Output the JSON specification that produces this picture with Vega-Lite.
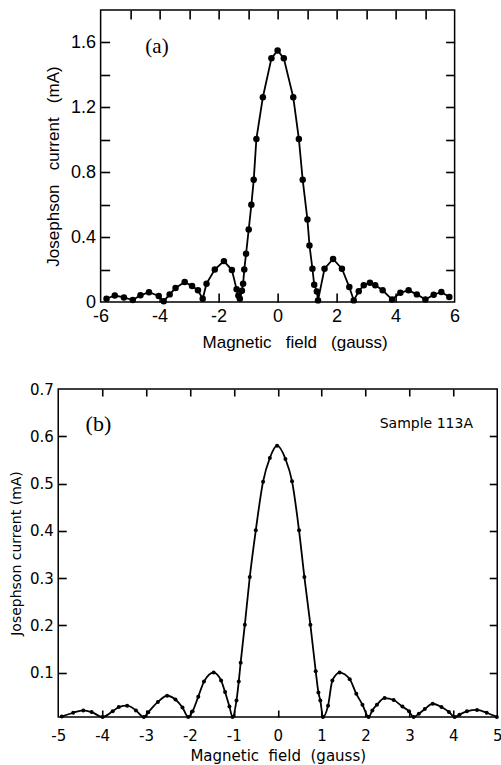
{
  "$schema": "https://vega.github.io/schema/vega-lite/v6.json",
  "background": "white",
  "padding": {"top": 8, "left": 8, "right": 0, "bottom": 0},
  "spacing": 30,
  "center": true,
  "config": {
    "view": {"stroke": "black", "strokeWidth": 1.5},
    "axis": {"grid": false, "domain": false, "ticks": true, "tickColor": "black", "tickOpacity": 1, "tickWidth": 1.6, "labelColor": "black", "titleColor": "black", "titleFontWeight": "normal", "labelFlush": false, "labelOverlap": false, "labelBound": false}
  },
  "datasets": {
    "a": [
      {"B": -5.80, "I": 0.02}, {"B": -5.52, "I": 0.04}, {"B": -5.21, "I": 0.028}, {"B": -4.91, "I": 0.012},
      {"B": -4.65, "I": 0.041}, {"B": -4.36, "I": 0.06}, {"B": -4.03, "I": 0.037}, {"B": -3.86, "I": 0.005},
      {"B": -3.66, "I": 0.047}, {"B": -3.46, "I": 0.086}, {"B": -3.15, "I": 0.123}, {"B": -2.90, "I": 0.098},
      {"B": -2.70, "I": 0.072}, {"B": -2.54, "I": 0.02}, {"B": -2.41, "I": 0.113}, {"B": -2.13, "I": 0.2},
      {"B": -1.82, "I": 0.252}, {"B": -1.55, "I": 0.197}, {"B": -1.39, "I": 0.078}, {"B": -1.33, "I": 0.04},
      {"B": -1.28, "I": 0.02}, {"B": -1.21, "I": 0.07}, {"B": -1.17, "I": 0.113}, {"B": -1.13, "I": 0.2},
      {"B": -1.07, "I": 0.297}, {"B": -0.98, "I": 0.447}, {"B": -0.89, "I": 0.599}, {"B": -0.81, "I": 0.753},
      {"B": -0.72, "I": 1.005}, {"B": -0.50, "I": 1.262}, {"B": -0.21, "I": 1.502}, {"B": 0.0, "I": 1.55},
      {"B": 0.21, "I": 1.502}, {"B": 0.53, "I": 1.262}, {"B": 0.72, "I": 1.005}, {"B": 0.85, "I": 0.753},
      {"B": 1.01, "I": 0.509}, {"B": 1.08, "I": 0.349}, {"B": 1.18, "I": 0.205}, {"B": 1.24, "I": 0.107},
      {"B": 1.33, "I": 0.065}, {"B": 1.37, "I": 0.01}, {"B": 1.59, "I": 0.205}, {"B": 1.88, "I": 0.265},
      {"B": 2.18, "I": 0.205}, {"B": 2.43, "I": 0.092}, {"B": 2.58, "I": 0.01}, {"B": 2.75, "I": 0.066},
      {"B": 2.92, "I": 0.103}, {"B": 3.13, "I": 0.119}, {"B": 3.31, "I": 0.103}, {"B": 3.56, "I": 0.072},
      {"B": 3.88, "I": 0.015}, {"B": 4.16, "I": 0.057}, {"B": 4.44, "I": 0.072}, {"B": 4.72, "I": 0.047},
      {"B": 5.01, "I": 0.015}, {"B": 5.29, "I": 0.045}, {"B": 5.55, "I": 0.062}, {"B": 5.82, "I": 0.031}
    ],
    "b": [
      {"B": -4.92, "I": 0.007}, {"B": -4.66, "I": 0.015}, {"B": -4.43, "I": 0.02}, {"B": -4.24, "I": 0.0165},
      {"B": -3.99, "I": 0.006}, {"B": -3.76, "I": 0.018}, {"B": -3.62, "I": 0.027}, {"B": -3.43, "I": 0.03},
      {"B": -3.23, "I": 0.02}, {"B": -3.05, "I": 0.006}, {"B": -2.95, "I": 0.016}, {"B": -2.73, "I": 0.038},
      {"B": -2.52, "I": 0.051}, {"B": -2.33, "I": 0.043}, {"B": -2.17, "I": 0.026}, {"B": -2.04, "I": 0.006},
      {"B": -1.94, "I": 0.018}, {"B": -1.81, "I": 0.049}, {"B": -1.68, "I": 0.081}, {"B": -1.46, "I": 0.1},
      {"B": -1.29, "I": 0.083}, {"B": -1.20, "I": 0.059}, {"B": -1.10, "I": 0.028}, {"B": -1.03, "I": 0.006},
      {"B": -0.94, "I": 0.041}, {"B": -0.888, "I": 0.081}, {"B": -0.845, "I": 0.121}, {"B": -0.75, "I": 0.201},
      {"B": -0.637, "I": 0.302}, {"B": -0.50, "I": 0.401}, {"B": -0.334, "I": 0.504}, {"B": -0.18, "I": 0.554},
      {"B": -0.016, "I": 0.58}, {"B": 0.175, "I": 0.552}, {"B": 0.325, "I": 0.505}, {"B": 0.485, "I": 0.401},
      {"B": 0.607, "I": 0.302}, {"B": 0.744, "I": 0.201}, {"B": 0.865, "I": 0.103}, {"B": 0.926, "I": 0.058},
      {"B": 0.97, "I": 0.041}, {"B": 1.03, "I": 0.006}, {"B": 1.146, "I": 0.03}, {"B": 1.244, "I": 0.083},
      {"B": 1.41, "I": 0.1}, {"B": 1.64, "I": 0.086}, {"B": 1.79, "I": 0.055}, {"B": 1.93, "I": 0.032},
      {"B": 2.07, "I": 0.006}, {"B": 2.155, "I": 0.02}, {"B": 2.26, "I": 0.032}, {"B": 2.435, "I": 0.046},
      {"B": 2.64, "I": 0.042}, {"B": 2.84, "I": 0.028}, {"B": 2.99, "I": 0.018}, {"B": 3.095, "I": 0.006},
      {"B": 3.215, "I": 0.013}, {"B": 3.35, "I": 0.023}, {"B": 3.53, "I": 0.034}, {"B": 3.73, "I": 0.027},
      {"B": 3.90, "I": 0.0165}, {"B": 4.03, "I": 0.006}, {"B": 4.14, "I": 0.011}, {"B": 4.31, "I": 0.018},
      {"B": 4.54, "I": 0.021}, {"B": 4.76, "I": 0.015}, {"B": 4.99, "I": 0.006}
    ]
  },
  "vconcat": [
    {
      "width": 354,
      "height": 292,
      "layer": [
        {
          "data": {"name": "a"},
          "mark": {"type": "line", "color": "black", "strokeWidth": 1.8},
          "encoding": {
            "x": {"field": "B", "type": "quantitative", "scale": {"domain": [-6, 6], "nice": false, "zero": false},
              "axis": {"orient": "bottom", "values": [-6, -4, -2, 0, 2, 4, 6], "ticks": false, "labelPadding": 5,
                "labelFont": "Liberation Sans", "labelFontSize": 18,
                "labelExpr": "datum.value < 0 ? '-' + format(-datum.value, 'd') : format(datum.value, 'd')",
                "title": "Magnetic\u00a0\u00a0\u00a0field\u00a0\u00a0\u00a0(gauss)", "titleFont": "Liberation Sans", "titleFontSize": 17, "titlePadding": 9, "titleX": 194}},
            "y": {"field": "I", "type": "quantitative", "scale": {"domain": [0, 1.8], "nice": false},
              "axis": {"orient": "left", "values": [0, 0.4, 0.8, 1.2, 1.6], "ticks": false, "labelPadding": 5,
                "labelFont": "Liberation Sans", "labelFontSize": 18,
                "labelExpr": "datum.value == 0 ? '0' : format(datum.value, '.1f')",
                "title": "Josephson\u00a0\u00a0\u00a0current\u00a0\u00a0\u00a0(mA)", "titleFont": "Liberation Sans", "titleFontSize": 17, "titlePadding": 8, "titleY": 156}}
          }
        },
        {
          "data": {"name": "a"},
          "mark": {"type": "point", "filled": true, "color": "black", "size": 42, "opacity": 1},
          "encoding": {
            "x": {"field": "B", "type": "quantitative", "scale": {"domain": [-6, 6], "nice": false, "zero": false},
              "axis": {"orient": "top", "values": [-4, -2, 0, 2, 4], "offset": -292, "tickSize": 9, "labels": false, "title": null}},
            "y": {"field": "I", "type": "quantitative", "scale": {"domain": [0, 1.8], "nice": false},
              "axis": {"orient": "right", "values": [0.2, 0.4, 0.6, 0.8, 1.0, 1.2, 1.4, 1.6], "offset": -354, "tickSize": 9, "labels": false, "title": null}}
          }
        },
        {
          "data": {"values": [{"B": -4.09, "I": 1.57, "t": "(a)"}]},
          "mark": {"type": "text", "font": "Liberation Serif", "fontSize": 21, "color": "black"},
          "encoding": {
            "x": {"field": "B", "type": "quantitative", "scale": {"domain": [-6, 6], "nice": false, "zero": false},
              "axis": {"orient": "top", "values": [-5, -4, -3, -2, -1, 0, 1, 2, 3, 4, 5], "offset": -9, "tickSize": 9, "labels": false, "title": null}},
            "y": {"field": "I", "type": "quantitative", "scale": {"domain": [0, 1.8], "nice": false},
              "axis": {"orient": "right", "values": [0.2, 0.4, 0.6, 0.8, 1.0, 1.2, 1.4, 1.6], "offset": -9, "tickSize": 9, "labels": false, "title": null}},
            "text": {"field": "t"}
          }
        }
      ],
      "resolve": {"axis": {"x": "independent", "y": "independent"}}
    },
    {
      "width": 439,
      "height": 328,
      "layer": [
        {
          "data": {"name": "b"},
          "mark": {"type": "line", "color": "black", "strokeWidth": 1.8, "interpolate": "monotone"},
          "encoding": {
            "x": {"field": "B", "type": "quantitative", "scale": {"domain": [-5, 5], "nice": false, "zero": false},
              "axis": {"orient": "bottom", "values": [-5, -4, -3, -2, -1, 0, 1, 2, 3, 4, 5], "ticks": false, "labelPadding": 11,
                "labelFont": "DejaVu Sans", "labelFontSize": 15,
                "labelExpr": "datum.value < 0 ? '-' + format(-datum.value, 'd') : format(datum.value, 'd')",
                "title": "Magnetic\u00a0\u00a0field\u00a0\u00a0(gauss)", "titleFont": "DejaVu Sans", "titleFontSize": 15, "titlePadding": 5}},
            "y": {"field": "I", "type": "quantitative", "scale": {"domain": [0.006, 0.7], "nice": false, "zero": false},
              "axis": {"orient": "left", "values": [0.1, 0.2, 0.3, 0.4, 0.5, 0.6, 0.7], "ticks": false, "labelPadding": 5,
                "labelFont": "DejaVu Sans", "labelFontSize": 15,
                "labelExpr": "format(datum.value, '.1f')",
                "title": "Josephson current (mA)", "titleFont": "DejaVu Sans", "titleFontSize": 14, "titlePadding": 6}}
          }
        },
        {
          "data": {"name": "b"},
          "mark": {"type": "point", "filled": true, "color": "black", "size": 16, "opacity": 1},
          "encoding": {
            "x": {"field": "B", "type": "quantitative", "scale": {"domain": [-5, 5], "nice": false, "zero": false},
              "axis": {"orient": "top", "values": [-4, -3, -2, -1, 0, 1, 2, 3, 4], "offset": -328, "tickSize": 7, "labels": false, "title": null}},
            "y": {"field": "I", "type": "quantitative", "scale": {"domain": [0.006, 0.7], "nice": false, "zero": false},
              "axis": {"orient": "right", "values": [0.1, 0.2, 0.3, 0.4, 0.5, 0.6], "offset": -439, "tickSize": 8, "labels": false, "title": null}}
          }
        },
        {
          "data": {"values": [{"B": -4.085, "I": 0.627, "t": "(b)"}]},
          "mark": {"type": "text", "font": "Liberation Serif", "fontSize": 22, "color": "black"},
          "encoding": {
            "x": {"field": "B", "type": "quantitative", "scale": {"domain": [-5, 5], "nice": false, "zero": false},
              "axis": {"orient": "top", "values": [-4, -3, -2, -1, 0, 1, 2, 3, 4], "offset": -7, "tickSize": 7, "labels": false, "title": null}},
            "y": {"field": "I", "type": "quantitative", "scale": {"domain": [0.006, 0.7], "nice": false, "zero": false},
              "axis": {"orient": "right", "values": [0.1, 0.2, 0.3, 0.4, 0.5, 0.6], "offset": -8, "tickSize": 8, "labels": false, "title": null}},
            "text": {"field": "t"}
          }
        },
        {
          "data": {"values": [{"B": 3.385, "I": 0.626, "t": "Sample 113A"}]},
          "mark": {"type": "text", "font": "DejaVu Sans", "fontSize": 14, "color": "black"},
          "encoding": {
            "x": {"field": "B", "type": "quantitative", "axis": null},
            "y": {"field": "I", "type": "quantitative", "axis": null},
            "text": {"field": "t"}
          }
        }
      ],
      "resolve": {"axis": {"x": "independent", "y": "independent"}}
    }
  ]
}
